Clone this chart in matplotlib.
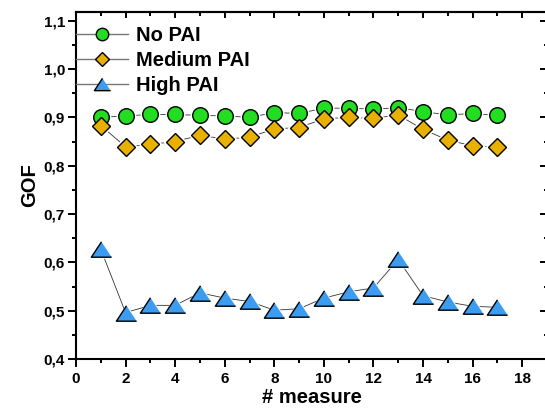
import numpy as np
import matplotlib
matplotlib.use("Agg")
import matplotlib.pyplot as plt
from matplotlib.ticker import MultipleLocator, FuncFormatter
from matplotlib.font_manager import FontProperties

# data
measure = [1, 2, 3, 4, 5, 6, 7, 8, 9, 10, 11, 12, 13, 14, 15, 16, 17]
no_pai = [0.900, 0.903, 0.906, 0.906, 0.904, 0.903, 0.900, 0.910, 0.908,
          0.919, 0.919, 0.917, 0.920, 0.912, 0.905, 0.908, 0.904]
medium_pai = [0.883, 0.839, 0.844, 0.850, 0.863, 0.855, 0.859, 0.876, 0.879,
              0.897, 0.900, 0.898, 0.905, 0.875, 0.853, 0.841, 0.839]
high_pai = [0.627, 0.496, 0.511, 0.511, 0.537, 0.526, 0.519, 0.501, 0.504,
            0.526, 0.539, 0.547, 0.606, 0.531, 0.518, 0.509, 0.507]
labels = ["No PAI", "Medium PAI", "High PAI"]

plt.rcParams['font.family'] = ['Liberation Sans', 'DejaVu Sans']
plt.rcParams['font.weight'] = 'bold'

fig = plt.figure(figsize=(5.45, 4.12), dpi=100)
ax = fig.add_axes([76 / 545, 1 - 359 / 412, 471 / 545, 347 / 412])

tri = [(0, 0.76), (-1, -0.76), (1, -0.76)]
styles = [
    (no_pai, 'o', '#22dd22', 11.2),
    (medium_pai, 'D', '#e8b000', 9.4),
    (high_pai, tri, '#3c9cf0', 14.6),
]

for (vals, mk, col, ms), lab in zip(styles, labels):
    ax.plot(measure, vals, color='#333333', lw=0.6, zorder=1)
    ax.plot(measure, vals, ls='none', marker=mk, ms=ms + 3, mfc='white',
            mec='none', zorder=2)
    ax.plot(measure, vals, ls='none', marker=mk, ms=ms, mfc=col, mec='black',
            mew=1.0, zorder=3)

# legend handles
handles = []
for (vals, mk, col, ms), lab in zip(styles, labels):
    h, = ax.plot([], [], color='#777777', lw=1.0, marker=mk, ms=ms * 0.8,
                 mfc=col, mec='black', mew=1.0)
    handles.append(h)
leg_font = FontProperties(family='Liberation Sans', weight='bold', size=14.5)
leg = ax.legend(handles, labels, loc='upper left', frameon=False,
                bbox_to_anchor=(0.0, 0.96), borderaxespad=0, borderpad=0,
                handlelength=2.6, handletextpad=0.4, labelspacing=0.3,
                prop=leg_font)

ax.set_xlim(0, 19)
ax.set_ylim(0.4, 1.118)
ax.xaxis.set_major_locator(MultipleLocator(2))
ax.xaxis.set_minor_locator(MultipleLocator(1))
ax.yaxis.set_major_locator(MultipleLocator(0.1))
ax.yaxis.set_minor_locator(MultipleLocator(0.05))
ax.yaxis.set_major_formatter(FuncFormatter(lambda v, p: f"{v:.1f}".replace('.', ',')))

ax.tick_params(which='both', direction='out', width=1.4, labelsize=11,
               top=False, right=False)
ax.tick_params(which='major', length=5.5, pad=2.5)
ax.tick_params(which='minor', length=3)
ax.tick_params(axis='x', which='major', pad=4)
for s in ax.spines.values():
    s.set_linewidth(1.5)

top = ax.secondary_xaxis('top')
top.xaxis.set_major_locator(MultipleLocator(2))
top.xaxis.set_minor_locator(MultipleLocator(1))
top.tick_params(which='both', direction='in', labeltop=False, width=1.4)
top.tick_params(which='major', length=4)
top.tick_params(which='minor', length=3)
top.spines['top'].set_linewidth(1.5)

right = ax.secondary_yaxis('right')
right.yaxis.set_major_locator(MultipleLocator(0.1))
right.yaxis.set_minor_locator(MultipleLocator(0.05))
right.tick_params(which='both', direction='in', labelright=False, width=1.4)
right.tick_params(which='major', length=5)
right.tick_params(which='minor', length=2.5)
right.spines['right'].set_linewidth(1.5)

ax.set_xlabel('# measure', fontsize=14.5, fontweight='bold', labelpad=1)
ax.set_ylabel('GOF', fontsize=14.5, fontweight='bold', labelpad=3)

fig.savefig('out.png', dpi=100)
